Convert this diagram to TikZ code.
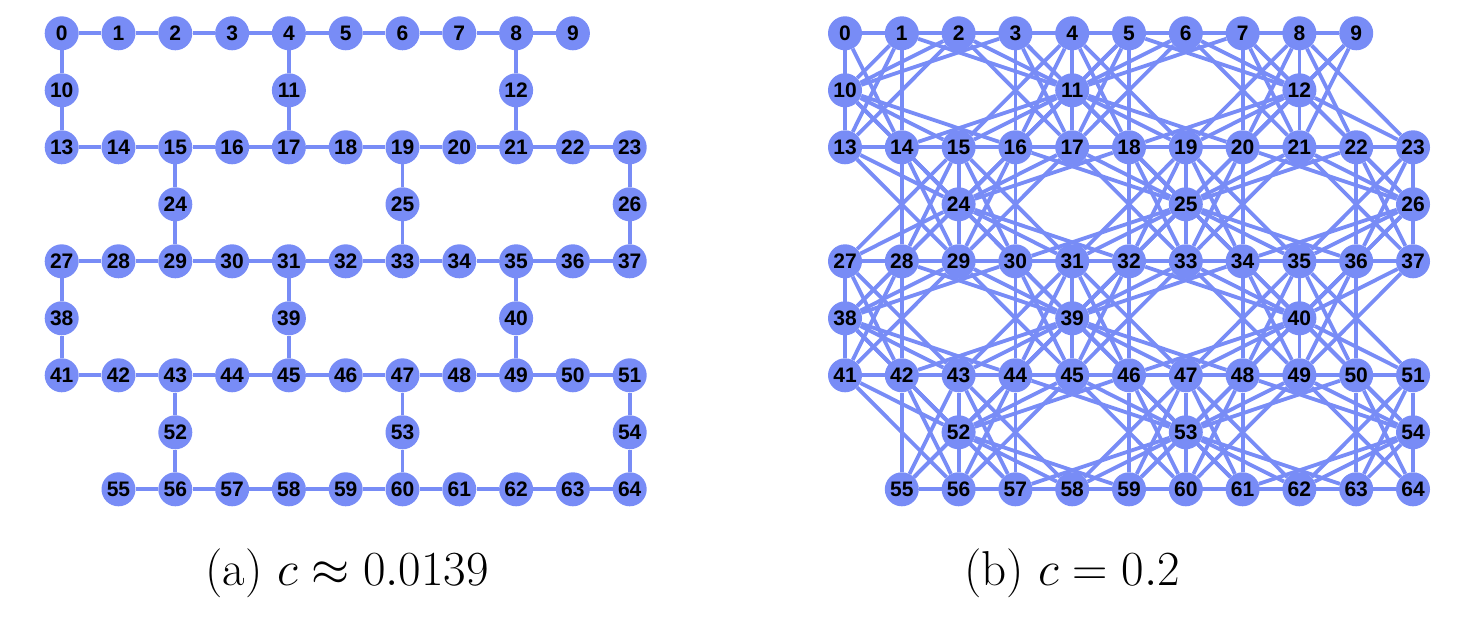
\RequirePackage{fix-cm}
\documentclass[tikz,border=0pt]{standalone}
\usepackage{fontspec}
\setsansfont{Liberation Sans}
\usetikzlibrary{backgrounds}

\definecolor{qubitblue}{RGB}{120,140,246}

% node data: kind (0 chain, 1 bridge), row or gap, column
\def\nt{{0,0,0,0,0,0,0,0,0,0, 1,1,1, 0,0,0,0,0,0,0,0,0,0,0, 1,1,1, 0,0,0,0,0,0,0,0,0,0,0, 1,1,1, 0,0,0,0,0,0,0,0,0,0,0, 1,1,1, 0,0,0,0,0,0,0,0,0,0}}
\def\nr{{0,0,0,0,0,0,0,0,0,0, 0,0,0, 1,1,1,1,1,1,1,1,1,1,1, 1,1,1, 2,2,2,2,2,2,2,2,2,2,2, 2,2,2, 3,3,3,3,3,3,3,3,3,3,3, 3,3,3, 4,4,4,4,4,4,4,4,4,4}}
\def\nc{{0,1,2,3,4,5,6,7,8,9, 0,4,8, 0,1,2,3,4,5,6,7,8,9,10, 2,6,10, 0,1,2,3,4,5,6,7,8,9,10, 0,4,8, 0,1,2,3,4,5,6,7,8,9,10, 2,6,10, 1,2,3,4,5,6,7,8,9,10}}

% hop distance (only exact up to 4) -> \hd
\newcommand\hexdist[2]{%
  \pgfmathtruncatemacro\hxTa{\nt[#1]}%
  \pgfmathtruncatemacro\hxTb{\nt[#2]}%
  \pgfmathtruncatemacro\hxRa{\nr[#1]}%
  \pgfmathtruncatemacro\hxRb{\nr[#2]}%
  \pgfmathtruncatemacro\hxCa{\nc[#1]}%
  \pgfmathtruncatemacro\hxCb{\nc[#2]}%
  \pgfmathtruncatemacro\hxDr{abs(\hxRa-\hxRb)}%
  \def\hd{99}%
  \ifnum\hxTa\hxTb=0 \relax
    \ifnum\hxDr=0 \relax\pgfmathtruncatemacro\hd{abs(\hxCa-\hxCb)}\fi
    \ifnum\hxDr=1 \relax
      \pgfmathtruncatemacro\hxOff{2*mod(min(\hxRa,\hxRb),2)}%
      \pgfmathtruncatemacro\hd{2+min(abs(\hxCa-\hxOff)+abs(\hxCb-\hxOff),
        abs(\hxCa-\hxOff-4)+abs(\hxCb-\hxOff-4),abs(\hxCa-\hxOff-8)+abs(\hxCb-\hxOff-8))}%
    \fi
  \fi
  \ifnum\hxTa\hxTb=1 \relax\hxbridge{\hxRa}{\hxCa}{\hxRb}{\hxCb}\fi
  \ifnum\hxTa\hxTb=10 \relax\hxbridge{\hxRb}{\hxCb}{\hxRa}{\hxCa}\fi
  \ifnum\hxTa\hxTb=11 \relax
    \ifnum\hxDr=1 \relax\pgfmathtruncatemacro\hd{2+abs(\hxCa-\hxCb)}\fi
  \fi}
% chain row #1 col #2, bridge gap #3 col #4
\newcommand\hxbridge[4]{%
  \pgfmathtruncatemacro\hxOk{(#1==#3)||(#1==#3+1)}%
  \ifnum\hxOk=1 \relax\pgfmathtruncatemacro\hd{1+abs(#2-#4)}\fi}

\newfontfamily\labelfont{Liberation Sans Bold}

\tikzset{
  qubit/.style={circle,fill=qubitblue,inner sep=0pt,minimum size=34pt},
  qlabel/.style={font=\labelfont\fontsize{21}{21}\selectfont},
  link/.style={draw=qubitblue,line width=3.8pt},
  caption/.style={anchor=base,font=\fontsize{49}{55}\selectfont}
}

\begin{document}
\begin{tikzpicture}[x=1pt,y=-1pt]
  \useasboundingbox (0,0) rectangle (1471,617);

  \foreach \i in {0,...,64}{
    \pgfmathsetmacro\px{56.8*\nc[\i]}
    \pgfmathsetmacro\py{57*(2*\nr[\i]+\nt[\i])}
    \node[qubit,qlabel] (a\i) at (61.7+\px,33.3+\py) {\i};
    \node[qubit,qlabel] (b\i) at (845+\px,33.3+\py) {\i};
  }

  \begin{pgfonlayer}{background}
    % (a) coupling map
    \foreach \s/\e in {0/8,13/22,27/36,41/50,55/63}
      \foreach \i in {\s,...,\e}{
        \pgfmathtruncatemacro\ii{\i+1}
        \draw[link] (a\i) -- (a\ii);
      }
    \foreach \u/\m/\v in {0/10/13,4/11/17,8/12/21,15/24/29,19/25/33,23/26/37,
        27/38/41,31/39/45,35/40/49,43/52/56,47/53/60,51/54/64}
      \draw[link] (a\u) -- (a\m) -- (a\v);

    % (b) extended coupling
    \foreach \i in {0,...,63}{
      \pgfmathtruncatemacro\jstart{\i+1}
      \foreach \j in {\jstart,...,64}{
        \hexdist{\i}{\j}
        \pgfmathtruncatemacro\noedge{(\i==0&&\j==15)||(\i==9&&\j==22)}
        \ifnum\hd<5 \ifnum\noedge=0 \draw[link] (b\i) -- (b\j);\fi\fi
      }
    }
  \end{pgfonlayer}

  \node[caption] (capa) at (347,585) {(a) $c \approx 0.0139$};
  \node[caption] (capb) at (1072,585) {(b) $c = 0.2$};
\end{tikzpicture}
\end{document}
